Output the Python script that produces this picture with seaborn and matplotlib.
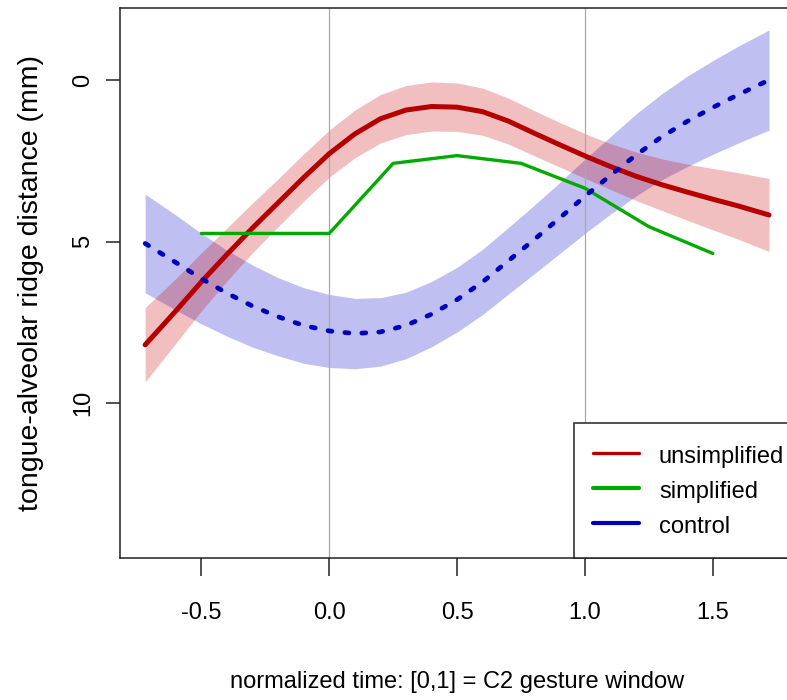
import numpy as np
import pandas as pd
import seaborn as sns
import matplotlib.pyplot as plt
from matplotlib.lines import Line2D

# values
time_pts = [-0.72, -0.6, -0.5, -0.4, -0.3, -0.2, -0.1, 0.0, 0.1, 0.2, 0.3, 0.4,
            0.5, 0.6, 0.7, 0.8, 0.9, 1.0, 1.1, 1.2, 1.3, 1.4, 1.5, 1.6, 1.72]

unsimplified_fit = [8.2, 7.15, 6.25, 5.4, 4.58, 3.8, 3.02, 2.28, 1.67, 1.2, 0.93, 0.82,
                    0.84, 0.98, 1.27, 1.64, 2.0, 2.35, 2.68, 2.98, 3.24, 3.47, 3.69, 3.9, 4.18]
unsimplified_ci = [1.15, 1.0, 0.9, 0.82, 0.77, 0.74, 0.73, 0.73, 0.74, 0.75, 0.76, 0.76,
                   0.75, 0.73, 0.71, 0.7, 0.69, 0.69, 0.71, 0.75, 0.8, 0.87, 0.95, 1.03, 1.13]

control_fit = [5.06, 5.65, 6.15, 6.6, 7.0, 7.33, 7.6, 7.77, 7.85, 7.8, 7.6, 7.25,
               6.8, 6.25, 5.6, 4.95, 4.28, 3.6, 2.95, 2.32, 1.76, 1.28, 0.85, 0.45, 0.0]
control_ci = [1.53, 1.47, 1.4, 1.33, 1.27, 1.21, 1.17, 1.13, 1.09, 1.06, 1.03, 1.01,
              1.0, 1.01, 1.03, 1.06, 1.1, 1.15, 1.2, 1.27, 1.33, 1.4, 1.45, 1.5, 1.55]

simplified_time = [-0.5, 0.0, 0.25, 0.5, 0.75, 1.0, 1.25, 1.5]
simplified_mean = [4.75, 4.75, 2.58, 2.34, 2.58, 3.35, 4.54, 5.37]

x_ticks = [-0.5, 0.0, 0.5, 1.0, 1.5]
x_tick_labels = ["-0.5", "0.0", "0.5", "1.0", "1.5"]
y_ticks = [0, 5, 10]
y_tick_labels = ["0", "5", "10"]
group_labels = ["unsimplified", "simplified", "control"]

RED = "#B40000"
GREEN = "#00AA00"
BLUE = "#0000BB"

sns.set_style("white")
plt.rcParams["font.family"] = ["Liberation Sans", "DejaVu Sans"]
plt.rcParams["font.size"] = 17
plt.rcParams["text.color"] = "black"
plt.rcParams["axes.labelcolor"] = "black"
plt.rcParams["xtick.labelcolor"] = "black"
plt.rcParams["ytick.labelcolor"] = "black"

fits = pd.DataFrame({
    "time": time_pts,
    "unsimplified": unsimplified_fit,
    "unsimplified_ci": unsimplified_ci,
    "control": control_fit,
    "control_ci": control_ci,
})
simp = pd.DataFrame({"time": simplified_time, "dist": simplified_mean})

fig = plt.figure(figsize=(7.87, 7.0), dpi=100)
ax = fig.add_axes([0.1527, 0.2033, 0.8562, 0.7848])

# confidence bands
ax.fill_between(fits["time"], fits["control"] - fits["control_ci"],
                fits["control"] + fits["control_ci"],
                color="#0000C8", alpha=0.25, lw=0, zorder=1)
ax.fill_between(fits["time"], fits["unsimplified"] - fits["unsimplified_ci"],
                fits["unsimplified"] + fits["unsimplified_ci"],
                color="#C80000", alpha=0.25, lw=0, zorder=1)

# gesture window markers
for xv in [0.0, 1.0]:
    ax.axvline(xv, color="#A8A8A8", lw=0.9, zorder=2)

sns.lineplot(data=fits, x="time", y="unsimplified", ax=ax, color=RED, lw=3.6,
             solid_capstyle="round", solid_joinstyle="round", legend=False, zorder=3)
sns.lineplot(data=simp, x="time", y="dist", ax=ax, color=GREEN, lw=2.4,
             legend=False, zorder=3)
sns.lineplot(data=fits, x="time", y="control", ax=ax, color=BLUE, lw=3.4,
             linestyle=(0, (0.85, 2.75)), dash_capstyle="round",
             legend=False, zorder=3)

ax.set_xlim(-0.8176, 1.8176)
ax.set_ylim(14.79, -2.22)

ax.set_xticks(x_ticks)
ax.set_xticklabels(x_tick_labels)
ax.set_yticks(y_ticks)
ax.set_yticklabels(y_tick_labels, rotation=90, va="center")
ax.tick_params(axis="x", length=13, width=1.1, color="#222222", pad=19, bottom=True)
ax.tick_params(axis="y", length=10, width=1.1, color="#222222", pad=9, left=True)

for sp in ax.spines.values():
    sp.set_color("#222222")
    sp.set_linewidth(1.1)

ax.set_xlabel("normalized time: [0,1] = C2 gesture window")
ax.set_ylabel("tongue-alveolar ridge distance (mm)", fontsize=20.5)
ax.xaxis.set_label_coords(0.5, -0.2257)
ax.xaxis.label.set_va("center")
ax.yaxis.set_label_coords(-0.133, 0.5)
ax.yaxis.label.set_va("center")

handles = [
    Line2D([], [], color=RED, lw=2.4),
    Line2D([], [], color=GREEN, lw=3.0),
    Line2D([], [], color=BLUE, lw=3.0),
]
leg = ax.legend(handles, group_labels, loc="lower left",
                bbox_to_anchor=(0.673, 0.0, 0.327, 0.3), mode="expand",
                borderaxespad=0, fontsize=17, handlelength=1.95,
                handleheight=1.3, handletextpad=0.83, borderpad=0.83,
                labelspacing=0.39, fancybox=False, framealpha=1)
leg.get_frame().set_edgecolor("#222222")
leg.get_frame().set_linewidth(1.1)

fig.savefig("out.png", dpi=100)
